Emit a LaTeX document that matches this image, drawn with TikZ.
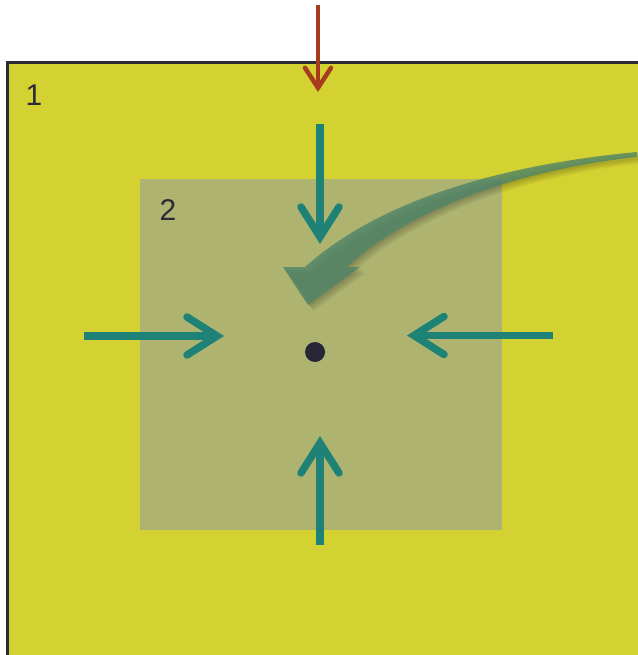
\documentclass[tikz,border=0pt]{standalone}
\usepackage{fontspec}
\setmainfont{Liberation Sans}
\usetikzlibrary{arrows.meta}
\definecolor{outerfill}{HTML}{D4D132}
\definecolor{outerline}{HTML}{2B2B38}
\definecolor{innerfill}{HTML}{AEB470}
\definecolor{tealc}{HTML}{1F8277}
\definecolor{redc}{HTML}{A83A1E}
\definecolor{bigc}{HTML}{4F8468}
\definecolor{dotc}{HTML}{262637}
\tikzset{
  tealarrow/.style={draw=tealc, line width=7.5pt, line cap=butt,
    -{Straight Barb[length=30pt,width=38pt,line cap=round,line join=miter]}},
  redarrow/.style={draw=redc, line width=4.5pt, line cap=butt,
    -{Straight Barb[length=20pt,width=26pt,line cap=round,line join=miter]}},
  lbl/.style={font=\fontsize{30}{30}\selectfont, text=outerline, inner sep=0pt},
  bigpath/.style={insert path={
    (637,152) .. controls (500,165) and (380,200) .. (305,267)
    -- (283,267) -- (308,305) -- (360,267) -- (347,267)
    .. controls (400,218) and (500,172) .. (637,157) -- cycle}}
}
\begin{document}
\begin{tikzpicture}[x=1pt,y=-1pt]
\useasboundingbox (0,0) rectangle (637,655);
% outer square
\fill[outerfill] (7,63) rectangle (645,665);
\draw[outerline, line width=3pt] (7,665) -- (7,63) -- (645,63);
% inner square
\fill[innerfill] (140,179) rectangle (502,530);
\node[lbl] (l1) at (34,95) {1};
\node[lbl] (l2) at (168,210) {2};
% centre point
\node[circle, fill=dotc, minimum size=20pt, inner sep=0pt] (c) at (315,352) {};
% arrow endpoints
\coordinate (rs) at (318,5);   \coordinate (re) at (318,92);
\coordinate (ts) at (320,124); \coordinate (te) at (320,244);
\coordinate (ls) at (84,336);  \coordinate (le) at (224,336);
\coordinate (rrs) at (553,335.5); \coordinate (rre) at (407,335.5);
\coordinate (bs) at (320,545); \coordinate (be) at (320,436);
\draw[redarrow] (rs) -- (re);
\draw[tealarrow] (ts) -- (te);
\draw[tealarrow] (ls) -- (le);
\draw[tealarrow] (rrs) -- (rre);
\draw[tealarrow] (bs) -- (be);
% big curved arrow: soft shadow then body
\foreach \s in {1.5,3,4.5,6}{
  \fill[black, opacity=0.06, shift={(\s,\s)}] [bigpath];
}
\fill[bigc, opacity=0.8] [bigpath];
\end{tikzpicture}
\end{document}
